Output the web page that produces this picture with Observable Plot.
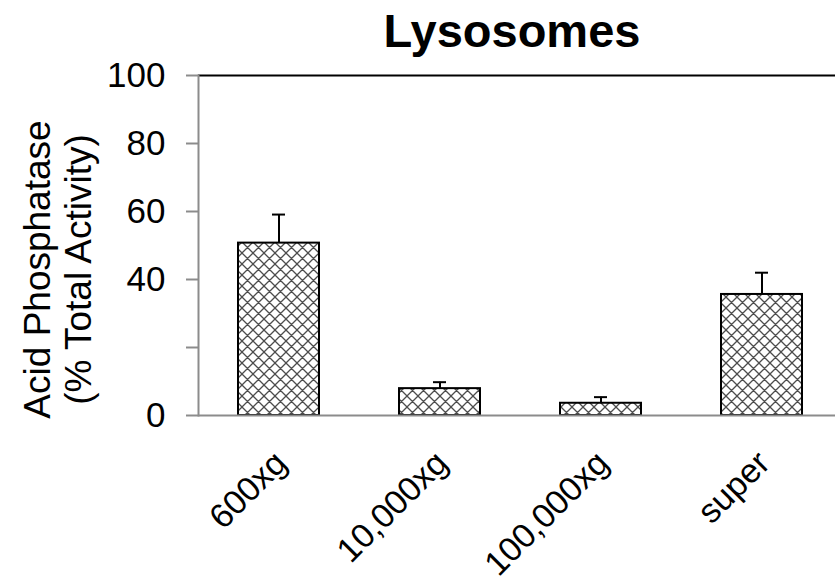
<!DOCTYPE html>
<html><head><meta charset="utf-8">
<script src="https://cdn.jsdelivr.net/npm/d3@7"></script>
<script src="https://cdn.jsdelivr.net/npm/@observablehq/plot@0.6"></script>
<style>
body{margin:0;background:#fff}
svg{font-family:"Liberation Sans",Arial,sans-serif}
</style>
</head><body><div id="chart"></div>
<script>
const title = "Lysosomes";
const categories = ["600xg", "10,000xg", "100,000xg", "super"];
const values = [50.7, 7.9, 3.6, 35.6];
const errors = [8.4, 1.9, 1.8, 6.4];
const yTicks = [0, 20, 40, 60, 80, 100];
const yTickLabels = ["0", "", "40", "60", "80", "100"];
const yLabelLines = ["Acid Phosphatase", "(% Total Activity)"];

const data = categories.map((c, i) => ({cat: c, value: values[i], err: errors[i]}));

const chart = Plot.plot({
  width: 835,
  height: 582,
  marginTop: 75,
  marginBottom: 167,
  marginLeft: 198,
  marginRight: 0,
  style: {fontFamily: '"Liberation Sans", Arial, sans-serif', background: "white", overflow: "visible"},
  x: {domain: categories, range: [198, 842], paddingInner: 0.5, paddingOuter: 0.25, axis: null},
  y: {domain: [0, 100], axis: null},
  marks: [
    Plot.barY(data, {x: "cat", y: "value", fill: "url(#xhatch)", stroke: "black", strokeWidth: 2}),
    Plot.ruleX(data, {x: "cat", y1: "value", y2: d => d.value + d.err, stroke: "black", strokeWidth: 2}),
    Plot.tickY(data, {x: "cat", y: d => d.value + d.err, stroke: "black", strokeWidth: 2, insetLeft: 34, insetRight: 34}),
    Plot.ruleY([0], {stroke: "#8c8c8c", strokeWidth: 2}),
    Plot.ruleY([100], {stroke: "black", strokeWidth: 2}),
    Plot.frame({anchor: "left", stroke: "#8c8c8c", strokeWidth: 2}),
    Plot.axisY({ticks: yTicks, tickFormat: (d, i) => yTickLabels[yTicks.indexOf(d)], tickSize: 12, tickPadding: 21,
      stroke: "#8c8c8c", strokeWidth: 2, fill: "black", fontSize: 35, label: null}),
    Plot.text(categories, {x: d => d, frameAnchor: "bottom", rotate: -45, textAnchor: "end", lineAnchor: "middle",
      dx: 2, dy: 42, fontSize: 34, fill: "black"}),
    Plot.text([yLabelLines.join("\n")], {frameAnchor: "left", rotate: -90, textAnchor: "middle", lineAnchor: "middle",
      lineHeight: 1.12, dx: -141, dy: 24, fontSize: 37, fill: "black"}),
    Plot.text([title], {frameAnchor: "top", lineAnchor: "middle", dx: -5, dy: -44, fontSize: 47, fontWeight: "bold", fill: "black"})
  ]
});

const svg = d3.select(chart);
const defs = svg.insert("defs", ":first-child");
const pat = defs.append("pattern").attr("id", "xhatch").attr("patternUnits", "userSpaceOnUse")
  .attr("width", 11).attr("height", 11);
pat.append("rect").attr("width", 11).attr("height", 11).attr("fill", "white");
pat.append("path").attr("d", "M0,0L11,11M11,0L0,11M-1,10L1,12M10,-1L12,1M-1,1L1,-1M10,12L12,10")
  .attr("stroke", "#4d4d4d").attr("stroke-width", 1.3).attr("fill", "none");
document.getElementById("chart").append(chart);
</script>
</body></html>
